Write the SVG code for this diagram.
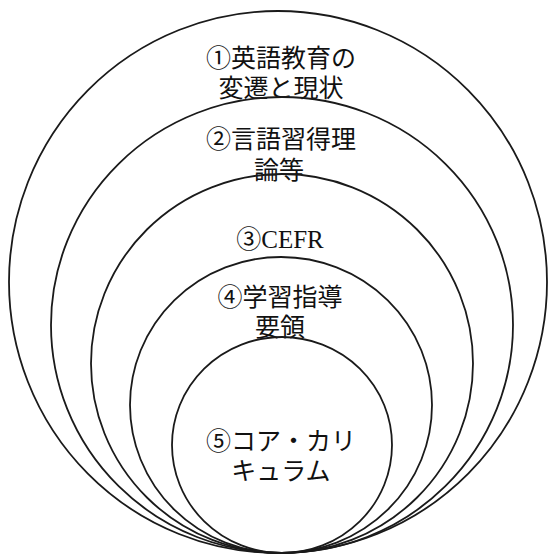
<svg xmlns="http://www.w3.org/2000/svg" width="552" height="555" viewBox="0 0 552 555">
<style>
.ring{fill:none;stroke:#1a1a1a;stroke-width:1.8}
.lbl{font-family:"Liberation Serif","Noto Sans CJK JP",serif;font-size:25px;fill:#111;text-anchor:middle}
</style>
<rect width="552" height="555" fill="#fff"/>
<g id="node1">
<ellipse class="ring" cx="278" cy="282" rx="269" ry="271"/>
<text class="lbl" x="281" y="67">①英語教育の</text>
<text class="lbl" x="281" y="97">変遷と現状</text>
</g>
<g id="node2">
<ellipse class="ring" cx="282" cy="325" rx="231" ry="228"/>
<text class="lbl" x="281" y="148">②言語習得理</text>
<text class="lbl" x="279" y="179">論等</text>
</g>
<g id="node3">
<ellipse class="ring" cx="282" cy="363.5" rx="191" ry="189.5"/>
<text class="lbl" x="280" y="248">③CEFR</text>
</g>
<g id="node4">
<ellipse class="ring" cx="281" cy="405" rx="151" ry="148"/>
<text class="lbl" x="280" y="306">④学習指導</text>
<text class="lbl" x="280" y="336">要領</text>
</g>
<g id="node5">
<ellipse class="ring" cx="282" cy="445" rx="110" ry="108"/>
<text class="lbl" x="281" y="450">⑤コア・カリ</text>
<text class="lbl" x="281" y="480">キュラム</text>
</g>
</svg>
